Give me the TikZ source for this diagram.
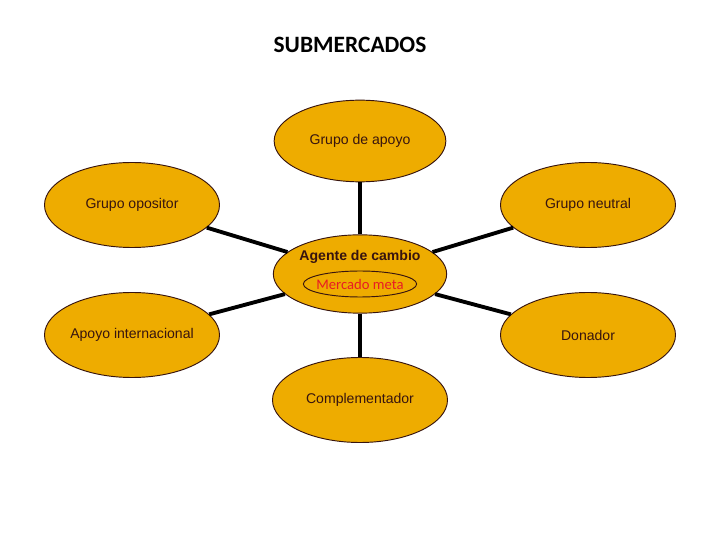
\documentclass[tikz,border=0pt]{standalone}
\usepackage{fontspec}
\setmainfont{Liberation Sans}
\newfontfamily\calibri{Carlito}
\usepackage{xcolor}
\usepackage{tikz}
\usetikzlibrary{shapes.geometric}

\definecolor{oro}{RGB}{238,172,0}
\definecolor{tinta}{RGB}{55,20,15}
\definecolor{rojo}{RGB}{232,28,36}

\begin{document}
\begin{tikzpicture}[x=0.03cm, y=-0.03cm,
    elipse/.style={ellipse, draw=tinta, line width=0.8pt, fill=oro, text=tinta, inner sep=0pt,
        minimum width=5.25cm, minimum height=2.55cm, font=\fontsize{12}{14}\selectfont},
    conector/.style={line width=3.3pt, black}]

    \useasboundingbox (0,0) rectangle (720,540);

    % Titulo
    \node[font=\calibri\bfseries\fontsize{20}{24}\selectfont] (titulo) at (350,45) {SUBMERCADOS};

    % Centro
    \node[elipse, minimum width=5.2cm, minimum height=2.35cm,
        label={[yshift=0.51cm, font=\bfseries\fontsize{12}{14}\selectfont, text=tinta]center:Agente de cambio}] (agente) at (360,274) {};
    \node[ellipse, draw=tinta, line width=0.8pt, minimum width=3.4cm, minimum height=0.78cm,
        label={[font=\calibri\fontsize{12.5}{14}\selectfont, text=rojo]center:Mercado meta}] (meta) at (360,284) {};

    % Submercados
    \node[elipse, minimum width=5.15cm, minimum height=2.45cm] (apoyo) at (360,141) {Grupo de apoyo};
    \node[elipse] (opositor) at (132,205) {Grupo opositor};
    \node[elipse] (neutral) at (588,205) {Grupo neutral};
    \node[elipse] (internacional) at (132,335) {Apoyo internacional};
    \node[elipse] (donador) at (588,335) {Donador};
    \node[elipse] (complementador) at (360,400) {Complementador};

    % Conectores
    \foreach \n in {apoyo,opositor,neutral,internacional,donador,complementador}
        \draw[conector] (agente) -- (\n);
\end{tikzpicture}
\end{document}
